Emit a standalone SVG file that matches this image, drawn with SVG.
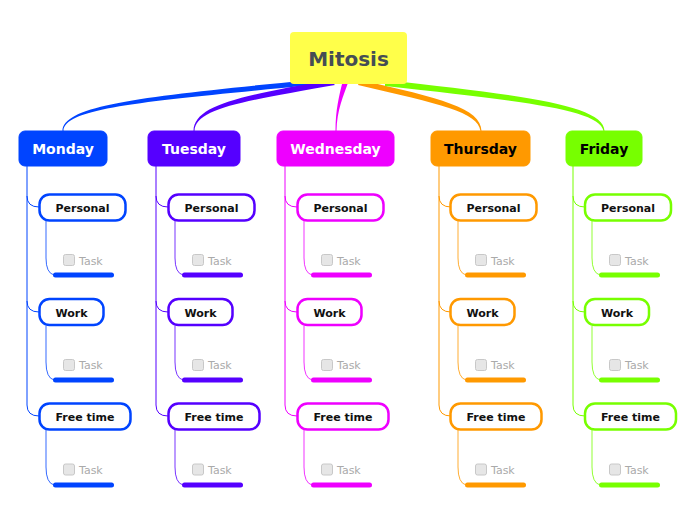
<svg xmlns="http://www.w3.org/2000/svg" width="696" height="520" viewBox="0 0 696 520">
<style>
text{font-family:"DejaVu Sans","Verdana",sans-serif;}
.root{fill:#ffff4a;}
.rootT{font-size:20px;font-weight:bold;fill:#454d55;text-anchor:middle;}
.dayT{font-size:14px;font-weight:bold;text-anchor:middle;}
.sub{fill:#ffffff;stroke-width:2.5;}
.subT{font-size:11px;font-weight:bold;fill:#111;text-anchor:middle;}
.cb{fill:#e6e6e6;stroke:#c8c8c8;stroke-width:1;}
.taskT{font-size:11px;fill:#aaaaaa;}
.bar{stroke-width:5;stroke-linecap:round;fill:none;}
.ln{fill:none;stroke-width:1;}
.c1{stroke:#0044ff;fill:#0044ff;} .c2{stroke:#5500ff;fill:#5500ff;} .c3{stroke:#ee00ff;fill:#ee00ff;} .c4{stroke:#ff9900;fill:#ff9900;} .c5{stroke:#77ff00;fill:#77ff00;}
.s1{stroke:#0044ff;} .s2{stroke:#5500ff;} .s3{stroke:#ee00ff;} .s4{stroke:#ff9900;} .s5{stroke:#77ff00;}
</style>
<defs>
<g id="col">
<path d="M27 166 L27 405 Q27 416 39 416"/><path d="M27 196 Q27 207 39 207"/><path d="M27 301 Q27 312 39 312"/>
<path opacity="0.8" d="M46 221 L46 258 Q46 273 54 275"/><path opacity="0.8" d="M46 326 L46 362 Q46 378 54 380"/><path opacity="0.8" d="M46 430 L46 467 Q46 483 54 485"/>
</g>
</defs>
<g id="connectors">
<path fill="#0044ff" d="M310 80 C150 96 63 104 62.5 131 L63.5 131 C64 107 152 101 312 85 Z"/>
<path fill="#5500ff" d="M330 80 C240 96 194 105 193.5 131 L194.5 131 C195 108 245 101 335 85 Z"/>
<path fill="#ee00ff" d="M343 80 C339 96 335.5 110 335.5 131 L336.5 131 C337 110 343 97 349 80 Z"/>
<path fill="#ff9900" d="M360 80 C440 98 481 108 481.5 131 L480.5 131 C478 112 440 104 358 85 Z"/>
<path fill="#77ff00" d="M385 80 C520 95 604.5 105 604.5 131 L603.5 131 C600 109 520 101 385 86 Z"/>
<use href="#col" class="ln s1"/>
<use href="#col" class="ln s2" transform="translate(129,0)"/>
<use href="#col" class="ln s3" transform="translate(258,0)"/>
<use href="#col" class="ln s4" transform="translate(412,0)"/>
<use href="#col" class="ln s5" transform="translate(546,0)"/>
</g>
<g id="root"><rect class="root" x="290" y="32" width="117" height="52" rx="4"/><text class="rootT" x="348.5" y="66">Mitosis</text></g>
<g id="monday"><rect class="c1" x="19" y="131" width="88" height="35" rx="6"/><text class="dayT" x="63" y="154" fill="#ffffff">Monday</text></g>
<g id="tuesday"><rect class="c2" x="148" y="131" width="92" height="35" rx="6"/><text class="dayT" x="194" y="154" fill="#ffffff">Tuesday</text></g>
<g id="wednesday"><rect class="c3" x="277" y="131" width="117" height="35" rx="6"/><text class="dayT" x="335.5" y="154" fill="#ffffff">Wednesday</text></g>
<g id="thursday"><rect class="c4" x="431" y="131" width="99" height="35" rx="6"/><text class="dayT" x="480.5" y="154" fill="#000000">Thursday</text></g>
<g id="friday"><rect class="c5" x="566" y="131" width="76" height="35" rx="6"/><text class="dayT" x="604" y="154" fill="#000000">Friday</text></g>
<g transform="translate(0,0)">
<g id="mon-personal"><rect class="sub s1" x="39.5" y="194.5" width="86" height="26" rx="10"/><text class="subT" x="82.5" y="212">Personal</text></g>
<g id="mon-personal-task"><rect class="cb" x="63.5" y="254.5" width="11" height="11" rx="2"/><text class="taskT" x="79" y="265">Task</text><line class="bar s1" x1="55.5" y1="275" x2="111.5" y2="275"/></g>
<g id="mon-work"><rect class="sub s1" x="39.5" y="299" width="64" height="26" rx="10"/><text class="subT" x="71.5" y="317">Work</text></g>
<g id="mon-work-task"><rect class="cb" x="63.5" y="359.5" width="11" height="11" rx="2"/><text class="taskT" x="79" y="369">Task</text><line class="bar s1" x1="55.5" y1="380" x2="111.5" y2="380"/></g>
<g id="mon-free"><rect class="sub s1" x="39.5" y="403.5" width="91" height="26" rx="10"/><text class="subT" x="85" y="421">Free time</text></g>
<g id="mon-free-task"><rect class="cb" x="63.5" y="464" width="11" height="11" rx="2"/><text class="taskT" x="79" y="474">Task</text><line class="bar s1" x1="55.5" y1="485" x2="111.5" y2="485"/></g>
</g>
<g transform="translate(129,0)">
<g id="tue-personal"><rect class="sub s2" x="39.5" y="194.5" width="86" height="26" rx="10"/><text class="subT" x="82.5" y="212">Personal</text></g>
<g id="tue-personal-task"><rect class="cb" x="63.5" y="254.5" width="11" height="11" rx="2"/><text class="taskT" x="79" y="265">Task</text><line class="bar s2" x1="55.5" y1="275" x2="111.5" y2="275"/></g>
<g id="tue-work"><rect class="sub s2" x="39.5" y="299" width="64" height="26" rx="10"/><text class="subT" x="71.5" y="317">Work</text></g>
<g id="tue-work-task"><rect class="cb" x="63.5" y="359.5" width="11" height="11" rx="2"/><text class="taskT" x="79" y="369">Task</text><line class="bar s2" x1="55.5" y1="380" x2="111.5" y2="380"/></g>
<g id="tue-free"><rect class="sub s2" x="39.5" y="403.5" width="91" height="26" rx="10"/><text class="subT" x="85" y="421">Free time</text></g>
<g id="tue-free-task"><rect class="cb" x="63.5" y="464" width="11" height="11" rx="2"/><text class="taskT" x="79" y="474">Task</text><line class="bar s2" x1="55.5" y1="485" x2="111.5" y2="485"/></g>
</g>
<g transform="translate(258,0)">
<g id="wed-personal"><rect class="sub s3" x="39.5" y="194.5" width="86" height="26" rx="10"/><text class="subT" x="82.5" y="212">Personal</text></g>
<g id="wed-personal-task"><rect class="cb" x="63.5" y="254.5" width="11" height="11" rx="2"/><text class="taskT" x="79" y="265">Task</text><line class="bar s3" x1="55.5" y1="275" x2="111.5" y2="275"/></g>
<g id="wed-work"><rect class="sub s3" x="39.5" y="299" width="64" height="26" rx="10"/><text class="subT" x="71.5" y="317">Work</text></g>
<g id="wed-work-task"><rect class="cb" x="63.5" y="359.5" width="11" height="11" rx="2"/><text class="taskT" x="79" y="369">Task</text><line class="bar s3" x1="55.5" y1="380" x2="111.5" y2="380"/></g>
<g id="wed-free"><rect class="sub s3" x="39.5" y="403.5" width="91" height="26" rx="10"/><text class="subT" x="85" y="421">Free time</text></g>
<g id="wed-free-task"><rect class="cb" x="63.5" y="464" width="11" height="11" rx="2"/><text class="taskT" x="79" y="474">Task</text><line class="bar s3" x1="55.5" y1="485" x2="111.5" y2="485"/></g>
</g>
<g transform="translate(412,0)">
<g id="thu-personal"><rect class="sub s4" x="38.5" y="194.5" width="86" height="26" rx="10"/><text class="subT" x="81.5" y="212">Personal</text></g>
<g id="thu-personal-task"><rect class="cb" x="63.5" y="254.5" width="11" height="11" rx="2"/><text class="taskT" x="79" y="265">Task</text><line class="bar s4" x1="55.5" y1="275" x2="111.5" y2="275"/></g>
<g id="thu-work"><rect class="sub s4" x="38.5" y="299" width="64" height="26" rx="10"/><text class="subT" x="70.5" y="317">Work</text></g>
<g id="thu-work-task"><rect class="cb" x="63.5" y="359.5" width="11" height="11" rx="2"/><text class="taskT" x="79" y="369">Task</text><line class="bar s4" x1="55.5" y1="380" x2="111.5" y2="380"/></g>
<g id="thu-free"><rect class="sub s4" x="38.5" y="403.5" width="91" height="26" rx="10"/><text class="subT" x="84" y="421">Free time</text></g>
<g id="thu-free-task"><rect class="cb" x="63.5" y="464" width="11" height="11" rx="2"/><text class="taskT" x="79" y="474">Task</text><line class="bar s4" x1="55.5" y1="485" x2="111.5" y2="485"/></g>
</g>
<g transform="translate(546,0)">
<g id="fri-personal"><rect class="sub s5" x="39" y="194.5" width="86" height="26" rx="10"/><text class="subT" x="82" y="212">Personal</text></g>
<g id="fri-personal-task"><rect class="cb" x="63.5" y="254.5" width="11" height="11" rx="2"/><text class="taskT" x="79" y="265">Task</text><line class="bar s5" x1="55.5" y1="275" x2="111.5" y2="275"/></g>
<g id="fri-work"><rect class="sub s5" x="39" y="299" width="64" height="26" rx="10"/><text class="subT" x="71" y="317">Work</text></g>
<g id="fri-work-task"><rect class="cb" x="63.5" y="359.5" width="11" height="11" rx="2"/><text class="taskT" x="79" y="369">Task</text><line class="bar s5" x1="55.5" y1="380" x2="111.5" y2="380"/></g>
<g id="fri-free"><rect class="sub s5" x="39" y="403.5" width="91" height="26" rx="10"/><text class="subT" x="84.5" y="421">Free time</text></g>
<g id="fri-free-task"><rect class="cb" x="63.5" y="464" width="11" height="11" rx="2"/><text class="taskT" x="79" y="474">Task</text><line class="bar s5" x1="55.5" y1="485" x2="111.5" y2="485"/></g>
</g>
</svg>
